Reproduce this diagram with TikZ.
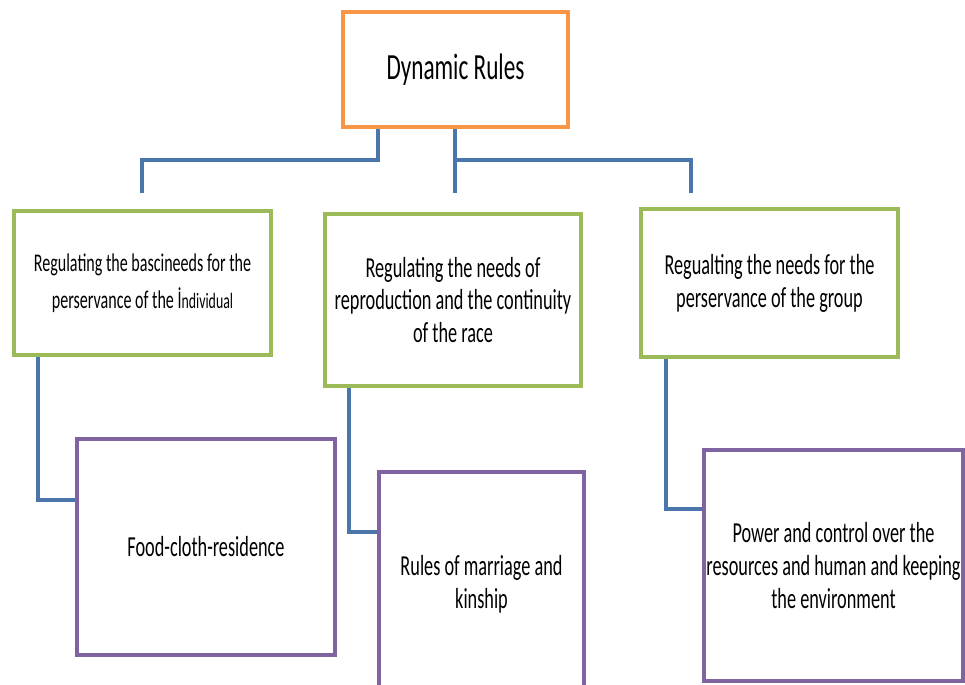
\documentclass[tikz,border=0pt]{standalone}
\usepackage{fontspec}
\setmainfont{Carlito}[FakeStretch=0.63]

\definecolor{rootorange}{HTML}{F79646}
\definecolor{needgreen}{HTML}{9BBB59}
\definecolor{rulepurple}{HTML}{8064A2}
\definecolor{linkblue}{HTML}{4A76AC}

\begin{document}
\begin{tikzpicture}
  [x = 0.02cm, y = -0.02cm,
   every node/.style = {draw, line width = 2.3pt, align = center, inner sep = 0pt},
   rootbox/.style = {rootorange, text = black, font = \fontsize{21}{24}\selectfont},
   needbox/.style = {needgreen, text = black, font = \fontsize{16.5}{18.7}\selectfont},
   rulebox/.style = {rulepurple, text = black, font = \fontsize{16.5}{19}\selectfont},
   connector/.style = {linkblue, line width = 2.3pt}]
  \useasboundingbox (0, 0) rectangle (965, 684);
  \clip (0, 0) rectangle (965, 684);

  \node [rootbox, minimum width = 4.5cm, minimum height = 2.3cm] (dyn) at (455.5, 69.5) {Dynamic Rules};

  \node [needbox, minimum width = 5.14cm, minimum height = 2.88cm, font = \fontsize{14.5}{21}\selectfont] (basic) at (142.5, 283)
    {Regulating the bascineeds for the\\perservance of the İ{\fontsize{12.5}{21}\selectfont ndividual}};
  \node [needbox, minimum width = 5.12cm, minimum height = 3.44cm] (race) at (453, 300)
    {Regulating the needs of\\reproduction and the continuity\\of the race};
  \node [needbox, minimum width = 5.14cm, minimum height = 2.96cm] (group) at (769.5, 283)
    {Regualting the needs for the\\perservance of the group};

  \node [rulebox, minimum width = 5.16cm, minimum height = 4.32cm] (food) at (206, 547) {Food-cloth-residence};
  \node [rulebox, minimum width = 4.1cm, minimum height = 4.48cm] (kin) at (481.5, 584) {Rules of marriage and\\kinship};
  \node [rulebox, minimum width = 5.18cm, minimum height = 4.62cm] (power) at (833.5, 565.5)
    {Power and control over the\\resources and human and keeping\\the environment};

  \coordinate (hl) at (378, 160);
  \coordinate (lt) at (142, 193);
  \coordinate (mt) at (455, 193);
  \coordinate (rt) at (691, 193);
  \coordinate (lb) at (38, 500);
  \coordinate (mb) at (349, 532);
  \coordinate (rb) at (666, 509);

  \draw [connector] (dyn.south -| hl) -- (hl) -| (lt);
  \draw [connector] (dyn.south -| mt) -- (mt);
  \draw [connector] (hl -| mt) -| (rt);
  \draw [connector] (basic.south -| lb) |- (food.west |- lb);
  \draw [connector] (race.south -| mb) |- (kin.west |- mb);
  \draw [connector] (group.south -| rb) |- (power.west |- rb);
\end{tikzpicture}
\end{document}
